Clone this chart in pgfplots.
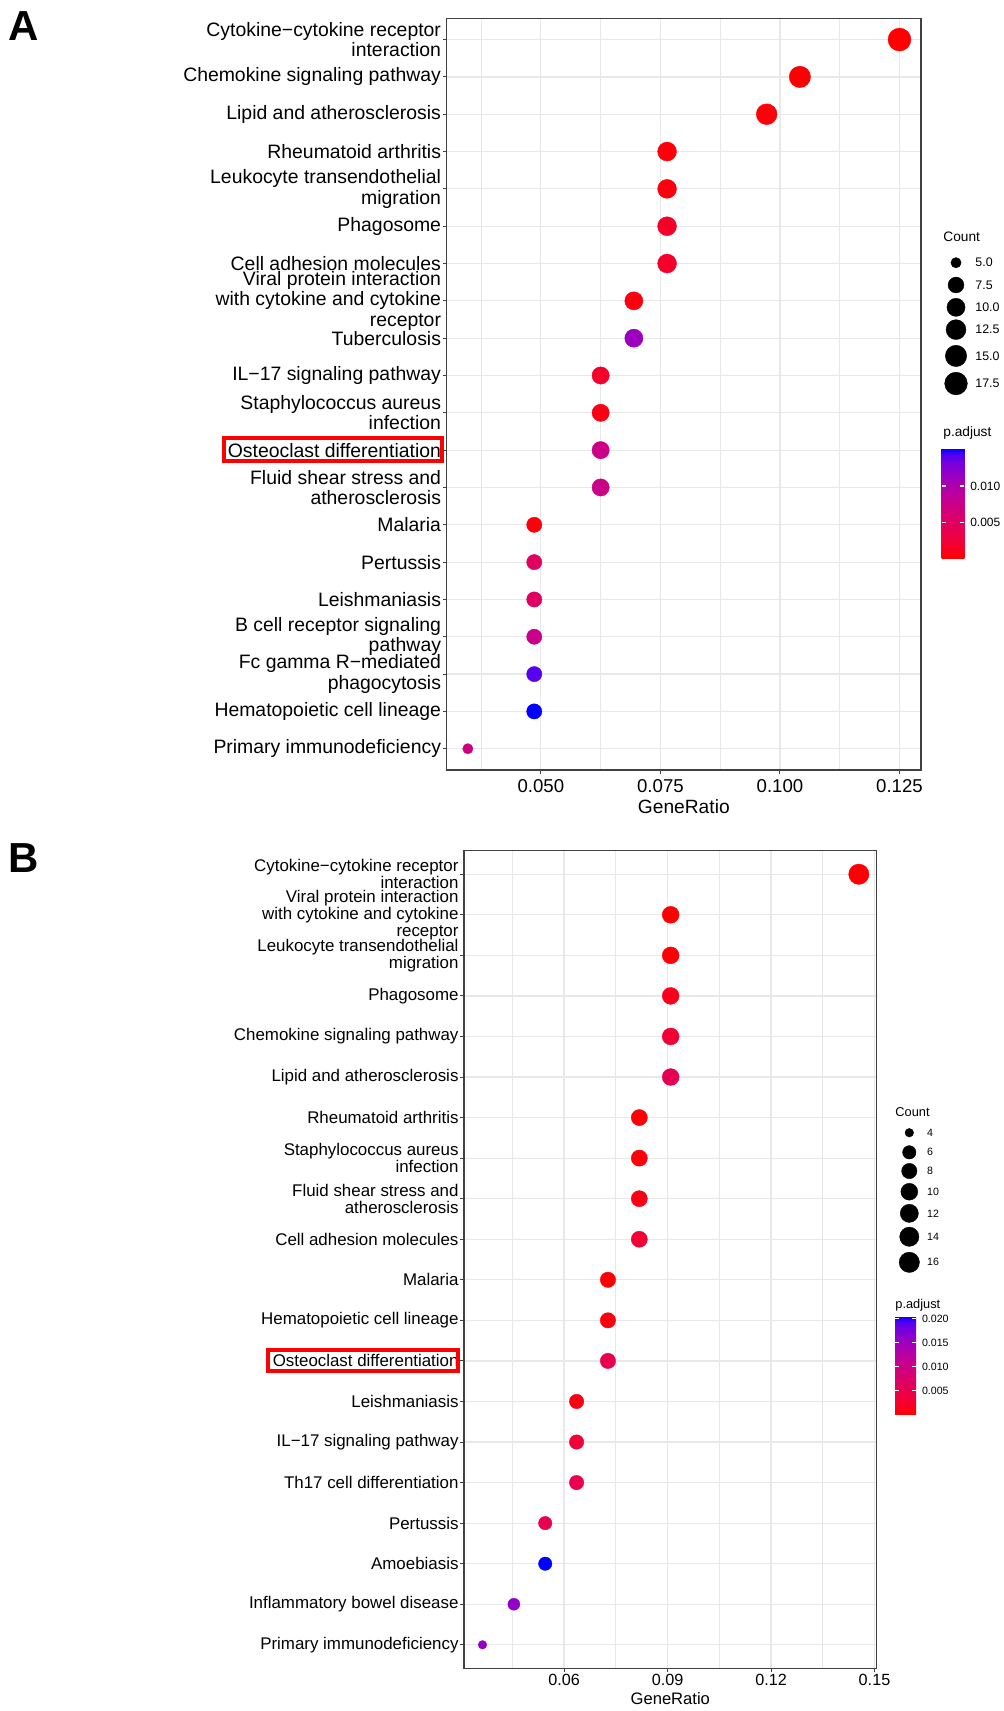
\documentclass[border=0pt]{standalone}
\usepackage{pgfplots}
\usepackage{pgfplotstable}
\pgfplotsset{compat=1.18}
\usepackage{fontspec}
\setmainfont{Liberation Sans}

\pgfplotsset{colormap={ggrb}{rgb255(0cm)=(255,0,0) rgb255(2cm)=(244,0,49) rgb255(4cm)=(232,0,80) rgb255(6cm)=(218,0,108) rgb255(8cm)=(202,0,137) rgb255(10cm)=(181,0,165) rgb255(12cm)=(154,0,195) rgb255(14cm)=(115,0,224) rgb255(15cm)=(84,0,240) rgb255(16cm)=(0,0,255)}}

% Panel A: row, count, GeneRatio, p.adjust, marker radius (pt)
\pgfplotstableread{
y cnt x p r
1 18 0.125000 0.0000 5.72
2 15 0.104167 0.0001 5.34
3 14 0.097222 0.0004 5.20
4 11 0.076389 0.0004 4.72
5 11 0.076389 0.0005 4.72
6 11 0.076389 0.0015 4.72
7 11 0.076389 0.0017 4.72
8 10 0.069444 0.0006 4.53
9 10 0.069444 0.0113 4.53
10 9 0.062500 0.0017 4.32
11 9 0.062500 0.0008 4.32
12 9 0.062500 0.0075 4.32
13 9 0.062500 0.0076 4.32
14 7 0.048611 0.0004 3.81
15 7 0.048611 0.0050 3.81
16 7 0.048611 0.0050 3.81
17 7 0.048611 0.0078 3.81
18 7 0.048611 0.0141 3.81
19 7 0.048611 0.0152 3.81
20 5 0.034722 0.0070 2.58
}\dataA

% Panel B
\pgfplotstableread{
y cnt x p r
1 16 0.145455 0.0001 5.08
2 10 0.090909 0.0002 4.22
3 10 0.090909 0.0003 4.22
4 10 0.090909 0.0015 4.22
5 10 0.090909 0.0029 4.22
6 10 0.090909 0.0055 4.22
7 9 0.081818 0.0003 4.04
8 9 0.081818 0.0004 4.04
9 9 0.081818 0.0012 4.04
10 9 0.081818 0.0030 4.04
11 8 0.072727 0.0002 3.84
12 8 0.072727 0.0008 3.84
13 8 0.072727 0.0052 3.84
14 7 0.063636 0.0010 3.61
15 7 0.063636 0.0030 3.61
16 7 0.063636 0.0050 3.61
17 6 0.054545 0.0052 3.35
18 6 0.054545 0.0206 3.35
19 5 0.045455 0.0160 3.00
20 4 0.036364 0.0158 2.15
}\dataB

% size legends (pixel coordinates of the whole figure)
\pgfplotstableread{
x y r
956 262.7 2.58
956 285.0 3.96
956 307.3 4.53
956 329.6 4.97
956 355.9 5.34
956 383.5 5.67
}\legA
\pgfplotstableread{
x y r
909.3 1132.7 2.15
909.3 1152.3 3.35
909.3 1171.0 3.84
909.3 1191.7 4.22
909.3 1213.3 4.54
909.3 1236.7 4.82
909.3 1262.3 5.08
}\legB

\pgfplotsset{
  dotplot/.style={
    scale only axis, y dir=reverse, ytick={1,...,20},
    grid=both,
    major grid style={color=black!9, line width=0.6pt},
    minor grid style={color=black!9, line width=0.4pt},
    axis line style={color=black!75, line width=0.75pt},
    tick align=outside, major tick length=2pt, minor tick length=0pt,
    xtick pos=left, ytick pos=left,
    tick style={color=black!75, line width=0.5pt},
    yticklabel style={align=right, inner sep=0pt},
    xticklabel style={inner sep=0pt},
    colormap name=ggrb,
    clip=false,
  },
  dots/.style={scatter, only marks, mark=*, point meta=\thisrow{p},
    scatter/use mapped color={draw=mapped color, fill=mapped color},
    visualization depends on={\thisrow{r}\as\rad},
    scatter/@pre marker code/.append style={/tikz/mark size=\rad},
    mark options={line width=0.2pt}},
  sizeleg/.style={scatter, only marks, mark=*, point meta=\thisrow{r},
    scatter/use mapped color={draw=black, fill=black},
    visualization depends on={\thisrow{r}\as\rad},
    scatter/@pre marker code/.append style={/tikz/mark size=\rad},
    mark options={line width=0.2pt}},
}
\tikzset{
  legA/.style={anchor=west, inner sep=0pt, font=\fontsize{6.2}{7}\selectfont},
  legB/.style={anchor=west, inner sep=0pt, font=\fontsize{5.3}{6}\selectfont},
}

\begin{document}
\begin{tikzpicture}
\path[use as bounding box] (0,0) rectangle (501.5pt,-855.5pt);

% ---------------- Panel A ----------------
\begin{axis}[dotplot,
  at={(223.35pt,-9.15pt)}, anchor=north west,
  width=237.15pt, height=375.85pt,
  xmin=0.0303, xmax=0.1295, ymin=0.43, ymax=20.57,
  xtick={0.05,0.075,0.1,0.125},
  xticklabels={0.050,0.075,0.100,0.125},
  minor xtick={0.0375,0.0625,0.0875,0.1125},
  xticklabel style={font=\fontsize{9.3}{10}\selectfont, yshift=-2.5pt},
  yticklabel style={font=\fontsize{9.7}{10.2}\selectfont, xshift=-0.65pt},
  yticklabels={
    Cytokine−cytokine receptor\\interaction,
    Chemokine signaling pathway,
    Lipid and atherosclerosis,
    Rheumatoid arthritis,
    Leukocyte transendothelial\\migration,
    Phagosome,
    Cell adhesion molecules,
    Viral protein interaction\\with cytokine and cytokine\\receptor,
    Tuberculosis,
    IL−17 signaling pathway,
    Staphylococcus aureus\\infection,
    Osteoclast differentiation,
    Fluid shear stress and\\atherosclerosis,
    Malaria,
    Pertussis,
    Leishmaniasis,
    B cell receptor signaling\\pathway,
    Fc gamma R−mediated\\phagocytosis,
    Hematopoietic cell lineage,
    Primary immunodeficiency},
  point meta min=0, point meta max=0.0152,
  colorbar,
  colorbar style={
    at={(parent axis.north east)}, anchor=north west,
    colorbar shift/.style={},
    xshift=10.35pt, yshift=-215pt,
    scale only axis, width=11.3pt, height=55pt,
    ytick={0.005,0.010}, yticklabels={0.005,0.010},
    scaled y ticks=false,
    minor ytick={}, grid=none,
    yticklabel pos=right, ytick pos=both,
    tick align=inside, major tick length=2.25pt,
    ytick style={draw=white, line width=0.6pt},
    axis line style={draw=none},
    yticklabel style={font=\fontsize{6}{7}\selectfont, inner sep=0pt, xshift=2.8pt},
  },
]
\addplot[dots] table[x=x, y=y] {\dataA};
\end{axis}

% ---------------- Panel B ----------------
\begin{axis}[dotplot,
  at={(232pt,-425.35pt)}, anchor=north west,
  width=206.35pt, height=408.8pt,
  xmin=0.0310, xmax=0.15064, ymin=0.42, ymax=20.58,
  xtick={0.06,0.09,0.12,0.15},
  xticklabels={0.06,0.09,0.12,0.15},
  minor xtick={0.045,0.075,0.105,0.135},
  xticklabel style={font=\fontsize{8.1}{9}\selectfont, yshift=-0.9pt},
  yticklabel style={font=\fontsize{8.45}{8.5}\selectfont, xshift=-0.55pt},
  yticklabels={
    Cytokine−cytokine receptor\\interaction,
    Viral protein interaction\\with cytokine and cytokine\\receptor,
    Leukocyte transendothelial\\migration,
    Phagosome,
    Chemokine signaling pathway,
    Lipid and atherosclerosis,
    Rheumatoid arthritis,
    Staphylococcus aureus\\infection,
    Fluid shear stress and\\atherosclerosis,
    Cell adhesion molecules,
    Malaria,
    Hematopoietic cell lineage,
    Osteoclast differentiation,
    Leishmaniasis,
    IL−17 signaling pathway,
    Th17 cell differentiation,
    Pertussis,
    Amoebiasis,
    Inflammatory bowel disease,
    Primary immunodeficiency},
  point meta min=0, point meta max=0.0206,
  colorbar,
  colorbar style={
    at={(parent axis.north east)}, anchor=north west,
    colorbar shift/.style={},
    xshift=9.15pt, yshift=-232.65pt,
    scale only axis, width=10.5pt, height=49.15pt,
    ytick={0.005,0.010,0.015,0.020}, yticklabels={0.005,0.010,0.015,0.020},
    scaled y ticks=false,
    minor ytick={}, grid=none,
    yticklabel pos=right, ytick pos=both,
    tick align=inside, major tick length=2.1pt,
    ytick style={draw=white, line width=0.6pt},
    axis line style={draw=none},
    yticklabel style={font=\fontsize{5.3}{6}\selectfont, inner sep=0pt, xshift=2.8pt},
  },
]
\addplot[dots] table[x=x, y=y] {\dataB};
\end{axis}

% ---------------- Overlay: legends, labels, highlight boxes (pixel coords) ----------------
\begin{axis}[at={(0pt,0pt)}, anchor=north west, scale only axis,
  width=501.5pt, height=855.5pt, xmin=0, xmax=1003, ymin=0, ymax=1711,
  y dir=reverse, hide axis, clip=false]
\addplot[sizeleg] table[x=x, y=y] {\legA};
\addplot[sizeleg] table[x=x, y=y] {\legB};
% panel letters
\node[font=\fontsize{21}{22}\selectfont\bfseries] at (axis cs:24,26) {A};
\node[font=\fontsize{21}{22}\selectfont\bfseries] at (axis cs:24,858) {B};
% axis titles
\node[font=\fontsize{9.6}{10}\selectfont] at (axis cs:683.8,807) {GeneRatio};
\node[font=\fontsize{8.3}{9}\selectfont] at (axis cs:670.3,1699) {GeneRatio};
% legend A
\node[anchor=west, inner sep=0pt, font=\fontsize{6.85}{7}\selectfont] at (axis cs:943,237) {Count};
\node[anchor=west, inner sep=0pt, font=\fontsize{6.85}{7}\selectfont] at (axis cs:943,433) {p.adjust};
\node[legA] at (axis cs:975,262.7) {5.0};
\node[legA] at (axis cs:975,285.0) {7.5};
\node[legA] at (axis cs:975,307.3) {10.0};
\node[legA] at (axis cs:975,329.6) {12.5};
\node[legA] at (axis cs:975,355.9) {15.0};
\node[legA] at (axis cs:975,383.5) {17.5};
% legend B
\node[anchor=west, inner sep=0pt, font=\fontsize{6.4}{7}\selectfont] at (axis cs:895,1111.7) {Count};
\node[anchor=west, inner sep=0pt, font=\fontsize{6.4}{7}\selectfont] at (axis cs:895,1305) {p.adjust};
\node[legB] at (axis cs:926.7,1132.7) {4};
\node[legB] at (axis cs:926.7,1152.3) {6};
\node[legB] at (axis cs:926.7,1171.0) {8};
\node[legB] at (axis cs:926.7,1191.7) {10};
\node[legB] at (axis cs:926.7,1213.3) {12};
\node[legB] at (axis cs:926.7,1236.7) {14};
\node[legB] at (axis cs:926.7,1262.3) {16};
% red highlight boxes
\draw[red, line width=2pt] (axis cs:223.6,438) rectangle (axis cs:442,461.3);
\draw[red, line width=2pt] (axis cs:267.7,1349.7) rectangle (axis cs:458,1371.3);
\end{axis}
\end{tikzpicture}
\end{document}
